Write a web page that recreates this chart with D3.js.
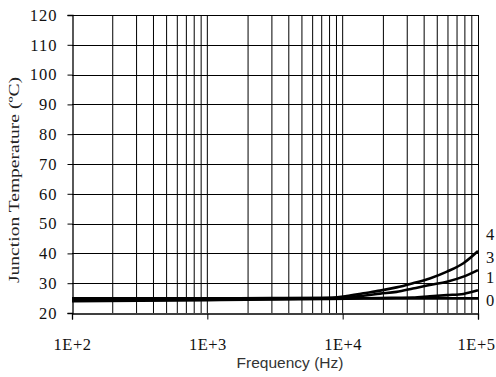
<!DOCTYPE html>
<html><head><meta charset="utf-8">
<script src="https://cdn.jsdelivr.net/npm/d3@7"></script>
<style>body{margin:0;background:#fff}svg{display:block}</style>
</head><body>
<svg id="c" width="496" height="377"></svg>
<script>
const freqs = [100, 1000, 3000, 8000, 10700, 14200, 18900, 25000, 33000, 44000, 59000, 78000, 100000];
const series4 = [24.9, 24.95, 25.0, 25.1, 25.7, 26.6, 27.5, 28.6, 30.0, 31.6, 33.9, 36.7, 40.8];
const series3 = [24.6, 24.7, 24.85, 25.05, 25.4, 25.8, 26.5, 27.1, 28.2, 29.4, 30.5, 32.2, 34.4];
const series1 = [24.3, 24.5, 24.7, 24.85, 24.9, 24.95, 25.0, 25.1, 25.2, 25.6, 26.0, 26.4, 27.6];
const series0 = [24.0, 24.3, 24.55, 24.75, 24.8, 24.85, 24.85, 24.9, 24.9, 24.9, 24.9, 24.9, 24.9];
const seriesLabels = ["4", "3", "1", "0"];
const yTicks = [20, 30, 40, 50, 60, 70, 80, 90, 100, 110, 120];
const xTickLabels = ["1E+2", "1E+3", "1E+4", "1E+5"];
const xTickValues = [100, 1000, 10000, 100000];

const svg = d3.select("#c");
const L = 72, R = 478, T = 15, B = 313;
const x = d3.scaleLog().domain([100, 100000]).range([L, R]);
const y = d3.scaleLinear().domain([20, 120]).range([B, T]);
const tickFont = "Liberation Serif, 'Times New Roman', serif";

// vertical minor grid
const minor = [];
for (let d = 100; d < 100000; d *= 10) for (let k = 2; k <= 9; k++) minor.push(d * k);
minor.push(1000, 10000);
svg.append("g").selectAll("line").data(minor).join("line")
  .attr("x1", d => x(d)).attr("x2", d => x(d)).attr("y1", T).attr("y2", B)
  .attr("stroke", "#000").attr("stroke-width", 1);
// horizontal grid
svg.append("g").selectAll("line").data(yTicks.slice(1)).join("line")
  .attr("x1", L).attr("x2", R).attr("y1", d => Math.round(y(d)) + 0.5).attr("y2", d => Math.round(y(d)) + 0.5)
  .attr("stroke", "#000").attr("stroke-width", 1);
// right border
svg.append("line").attr("x1", R + 0.5).attr("x2", R + 0.5).attr("y1", T).attr("y2", B + 0.5)
  .attr("stroke", "#000");

// axes
const yAxis = d3.axisLeft(y).tickValues(yTicks).tickSize(5).tickPadding(10).tickFormat(d3.format("d"));
const gy = svg.append("g").attr("transform", `translate(${L + 0.5},0)`).call(yAxis);
gy.select(".domain").attr("stroke", "#000").attr("stroke-width", 1.3);
gy.selectAll(".tick line").attr("stroke", "#000");
gy.selectAll("text").attr("font-family", tickFont).attr("font-size", 16.5)
  .attr("letter-spacing", 1).attr("fill", "#111");

const xAxis = d3.axisBottom(x).tickValues(xTickValues).tickSize(6).tickPadding(19)
  .tickFormat((d, i) => xTickLabels[i]);
const gx = svg.append("g").attr("transform", `translate(0,${B + 0.5})`).call(xAxis);
gx.select(".domain").attr("stroke", "#000").attr("stroke-width", 1.3);
gx.selectAll(".tick line").attr("stroke", "#000");
gx.selectAll("text").attr("font-family", tickFont).attr("font-size", 16.5)
  .attr("letter-spacing", 0.5).attr("fill", "#111");
// keep the last label inside the window
gx.selectAll(".tick").filter(d => d === 100000).select("text")
  .attr("text-anchor", "end").attr("x", 495 - R);

// lines
const all = [series4, series3, series1, series0];
const line = d3.line().x((d, i) => x(freqs[i])).y(d => y(d)).curve(d3.curveMonotoneX);
svg.append("g").selectAll("path").data(all).join("path")
  .attr("d", line).attr("fill", "none").attr("stroke", "#000").attr("stroke-width", 2.6);

// series labels at right
svg.append("g").selectAll("text").data(seriesLabels).join("text")
  .attr("x", 486)
  .attr("y", (d, i) => [234, 257, 277, 300][i])
  .attr("dominant-baseline", "central")
  .attr("font-family", tickFont).attr("font-size", 16.5).attr("fill", "#111")
  .text(d => d);

// axis titles
svg.append("text").attr("x", 290).attr("y", 368).attr("text-anchor", "middle")
  .attr("font-family", "Liberation Sans, Arial, sans-serif").attr("font-size", 15.5).attr("fill", "#333")
  .text("Frequency (Hz)");
svg.append("text").attr("transform", "translate(19,180) rotate(-90)").attr("text-anchor", "middle")
  .attr("font-family", tickFont).attr("font-size", 15).attr("fill", "#222")
  .attr("textLength", 206).attr("lengthAdjust", "spacingAndGlyphs")
  .text("Junction Temperature (ºC)");
</script>
</body></html>
